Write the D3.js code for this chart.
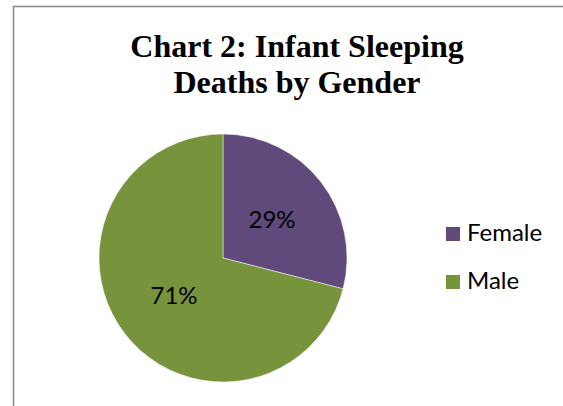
<!DOCTYPE html>
<html>
<head>
<meta charset="utf-8">
<script src="https://cdn.jsdelivr.net/npm/d3@7"></script>
<style>
  body { margin: 0; background: #fff; }
  svg { display: block; }
</style>
</head>
<body>
<div id="chart-area"><svg></svg></div>
<script>
const chartSize = { width: 563, height: 406 };

const titleLines = ["Chart 2: Infant Sleeping", "Deaths by Gender"];
const categories = ["Female", "Male"];
const values = [29, 71];
const colours = ["#604a7b", "#77933c"];

const pieCenter = { x: 223, y: 258 };
const radius = 124;

const drawChart = () => {
  const svg = d3
    .select("#chart-area svg")
    .attr("width", chartSize.width)
    .attr("height", chartSize.height);

  // chart frame (only top & left edges are visible in the crop)
  svg
    .append("rect")
    .attr("x", 13.5)
    .attr("y", 6.5)
    .attr("width", 600)
    .attr("height", 450)
    .attr("fill", "none")
    .attr("stroke", "#868686")
    .attr("stroke-width", 1.5);

  svg
    .append("g")
    .attr("class", "title")
    .selectAll("text")
    .data(titleLines)
    .enter()
    .append("text")
    .attr("x", 297)
    .attr("y", (d, i) => 57 + i * 36)
    .attr("text-anchor", "middle")
    .style("font-family", "'Liberation Serif', 'Times New Roman', serif")
    .style("font-weight", "bold")
    .style("font-size", "32px")
    .text(d => d);

  const data = categories.map((c, i) => ({ name: c, value: values[i] }));

  const pie = d3
    .pie()
    .sort(null)
    .value(d => d.value);

  const arc = d3.arc().innerRadius(0).outerRadius(radius);
  const labelArc = d3.arc().innerRadius(radius * 0.5).outerRadius(radius * 0.5);

  const slices = svg
    .append("g")
    .attr("transform", `translate(${pieCenter.x},${pieCenter.y})`);

  const arcs = pie(data);

  slices
    .selectAll("path")
    .data(arcs)
    .enter()
    .append("path")
    .attr("d", arc)
    .attr("fill", (d, i) => colours[i])
    .attr("stroke", "#fff")
    .attr("stroke-width", 0.5);

  slices
    .selectAll("text")
    .data(arcs)
    .enter()
    .append("text")
    .attr("transform", d => `translate(${labelArc.centroid(d)})`)
    .attr("text-anchor", "middle")
    .attr("dy", "0.35em")
    .style("font-family", "Lato, 'Open Sans', sans-serif")
    .style("font-size", "24px")
    .style("fill", "#000")
    .text(d => `${d.data.value}%`);

  const legend = svg
    .append("g")
    .attr("class", "legend")
    .attr("transform", "translate(446,227)");

  const items = legend
    .selectAll("g")
    .data(categories)
    .enter()
    .append("g")
    .attr("transform", (d, i) => `translate(0,${i * 48})`);

  items
    .append("rect")
    .attr("width", 14)
    .attr("height", 14)
    .attr("fill", (d, i) => colours[i]);

  items
    .append("text")
    .attr("x", 21)
    .attr("y", 14)
    .style("font-family", "Lato, 'Open Sans', sans-serif")
    .style("font-size", "24px")
    .style("fill", "#000")
    .text(d => d);
};

window.onload = drawChart;
</script>
</body>
</html>
